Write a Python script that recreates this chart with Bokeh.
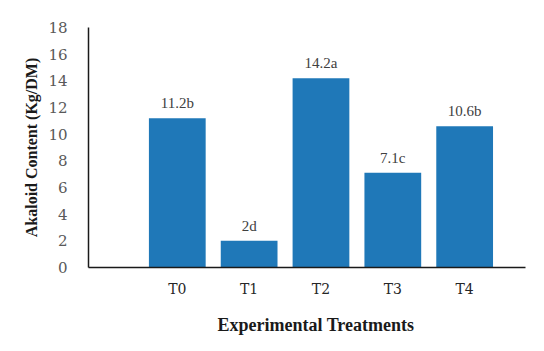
from bokeh.plotting import figure
from bokeh.models import ColumnDataSource, FixedTicker, Range1d, LabelSet, Title
from bokeh.embed import file_html
from bokeh.resources import INLINE

categories = ["T0", "T1", "T2", "T3", "T4"]
values = [11.2, 2.0, 14.2, 7.1, 10.6]
letters = ["b", "d", "a", "c", "b"]
y_ticks = [0, 2, 4, 6, 8, 10, 12, 14, 16, 18]

xs = [i + 1 for i in range(len(categories))]
labels = [f"{v:g}{l}" for v, l in zip(values, letters)]
src = ColumnDataSource(dict(x=xs, top=values, label=labels, cat=categories))

p = figure(width=544, height=351, output_backend="svg", toolbar_location=None,
           x_range=Range1d(-0.236, 5.847), y_range=Range1d(0, 18),
           min_border_left=88, min_border_right=19, min_border_top=27, min_border_bottom=84)
p.outline_line_color = None
p.xgrid.grid_line_color = None
p.ygrid.grid_line_color = None
p.background_fill_color = "white"
p.border_fill_color = "white"

p.vbar(x="x", top="top", width=0.79, bottom=0, source=src, color="#1f78b8", line_color=None)

lbl = LabelSet(x="x", y="top", text="label", source=src, text_align="center",
               text_baseline="bottom", y_offset=7, text_font="Lato", text_font_size="15px",
               text_color="#404040")
p.add_layout(lbl)

p.xaxis.ticker = FixedTicker(ticks=xs)
p.xaxis.major_label_overrides = {x: c for x, c in zip(xs, categories)}
p.xaxis.major_tick_line_color = None
p.xaxis.minor_tick_line_color = None
p.xaxis.axis_line_color = "#1a1a1a"
p.xaxis.axis_line_width = 1.5
p.xaxis.major_label_text_font = "DejaVu Serif"
p.xaxis.major_label_text_font_size = "14px"
p.xaxis.major_label_text_color = "#262626"
p.xaxis.major_label_standoff = 7

xtitle = Title(text="Experimental Treatments", align="left", offset=129,
               text_font="Liberation Serif", text_font_style="bold",
               text_font_size="18px", text_color="#1a1a1a", standoff=26)
p.add_layout(xtitle, "below")

p.yaxis.ticker = FixedTicker(ticks=y_ticks)
p.yaxis.major_tick_line_color = None
p.yaxis.minor_tick_line_color = None
p.yaxis.axis_line_color = "#1a1a1a"
p.yaxis.axis_line_width = 1.5
p.yaxis.major_label_text_font = "DejaVu Serif"
p.yaxis.major_label_text_font_size = "15px"
p.yaxis.major_label_text_color = "#595959"
p.yaxis.major_label_standoff = 15
p.yaxis.axis_label = "Akaloid Content (Kg/DM)"
p.yaxis.axis_label_text_font = "Liberation Serif"
p.yaxis.axis_label_text_font_style = "bold"
p.yaxis.axis_label_text_font_size = "16px"
p.yaxis.axis_label_text_color = "#1a1a1a"
p.yaxis.axis_label_standoff = 5

open("out.html", "w").write(file_html(p, INLINE))
